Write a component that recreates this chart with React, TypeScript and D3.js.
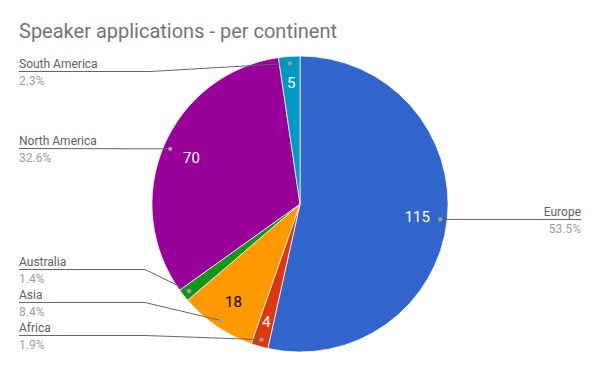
import { useEffect, useRef } from 'react';
import * as d3 from 'd3';

const continents = ['Europe', 'Africa', 'Asia', 'Australia', 'North America', 'South America'];
const applications = [115, 4, 18, 3, 70, 5];
const sliceColors = ['#3366cc', '#dc3912', '#ff9900', '#109618', '#990099', '#0099c6'];

// label layout: y of the underline for each continent
const labelLineY: Record<string, number> = {
  'Europe': 219.5,
  'Africa': 335.5,
  'Asia': 302.5,
  'Australia': 269.5,
  'North America': 148.5,
  'South America': 71.5,
};

const App = () => {
  const svgRef = useRef<SVGSVGElement>(null);

  useEffect(() => {
    const width = 600;
    const height = 371;
    const cx = 300;
    const cy = 204;
    const radius = 148;

    const svg = d3.select(svgRef.current)
      .attr('width', width)
      .attr('height', height);
    svg.selectAll('*').remove();

    svg.append('text')
      .attr('x', 19)
      .attr('y', 38)
      .attr('font-family', 'Roboto')
      .attr('font-size', 20)
      .attr('fill', '#757575')
      .text('Speaker applications - per continent');

    const data = continents.map((name, i) => ({ name, value: applications[i], color: sliceColors[i] }));
    const total = d3.sum(applications);

    const pie = d3.pie<any>().sort(null).value(d => d.value);
    const arcs = pie(data);

    const arc = d3.arc<any>().innerRadius(0).outerRadius(radius);
    const valueArc = d3.arc<any>().innerRadius(118).outerRadius(118);
    const narrowArc = d3.arc<any>().innerRadius(122).outerRadius(122);
    const dotArc = d3.arc<any>().innerRadius(141).outerRadius(141);

    const g = svg.append('g').attr('transform', `translate(${cx},${cy})`);

    g.selectAll('path.slice')
      .data(arcs)
      .enter().append('path')
      .attr('class', 'slice')
      .attr('d', arc)
      .attr('fill', d => d.data.color)
      .attr('stroke', '#fff')
      .attr('stroke-width', 0.7);

    // too-thin slices get no value text
    g.selectAll('text.value')
      .data(arcs.filter(d => d.endAngle - d.startAngle > 0.1))
      .enter().append('text')
      .attr('class', 'value')
      .attr('transform', d => {
        const a = d.endAngle - d.startAngle < 0.2 ? narrowArc : valueArc;
        return `translate(${a.centroid(d)})`;
      })
      .attr('text-anchor', 'middle')
      .attr('dy', '0.36em')
      .attr('font-family', 'Roboto')
      .attr('font-size', 15)
      .attr('fill', d => d.data.name === 'Asia' ? '#000' : '#fff')
      .text(d => d.data.value);

    // leader lines + labels
    arcs.forEach(d => {
      const [dx, dy] = dotArc.centroid(d);
      const px = cx + dx;
      const py = cy + dy;
      const ly = labelLineY[d.data.name];
      const right = px > cx;
      const pct = d3.format('.1f')(d.data.value / total * 100) + '%';

      let points: [number, number][];
      if (right) {
        points = [[px, py], [581, ly]];
      } else if (Math.abs(py - ly) < 2) {
        points = [[19, ly], [px, py]];
      } else {
        const elbow = d.data.name === 'South America' ? 150 : 145;
        points = [[19, ly], [elbow, ly], [px, py]];
      }

      svg.append('path')
        .attr('d', d3.line()(points))
        .attr('fill', 'none')
        .attr('stroke', '#666')
        .attr('stroke-width', 1);

      svg.append('circle')
        .attr('cx', px)
        .attr('cy', py)
        .attr('r', 2.2)
        .attr('fill', '#9e9e9e');

      const tx = right ? 581 : 19;
      const anchor = right ? 'end' : 'start';

      svg.append('text')
        .attr('x', tx)
        .attr('y', ly - 4)
        .attr('text-anchor', anchor)
        .attr('font-family', 'Roboto')
        .attr('font-size', 12)
        .attr('fill', '#616161')
        .text(d.data.name);

      svg.append('text')
        .attr('x', tx)
        .attr('y', ly + 13.5)
        .attr('text-anchor', anchor)
        .attr('font-family', 'Roboto')
        .attr('font-size', 12)
        .attr('fill', '#9e9e9e')
        .text(pct);
    });
  }, []);

  return (
    <div style={{ position: 'absolute', left: 0, top: 0 }}>
      <svg ref={svgRef} style={{ display: 'block' }} />
    </div>
  );
};

export default App;
